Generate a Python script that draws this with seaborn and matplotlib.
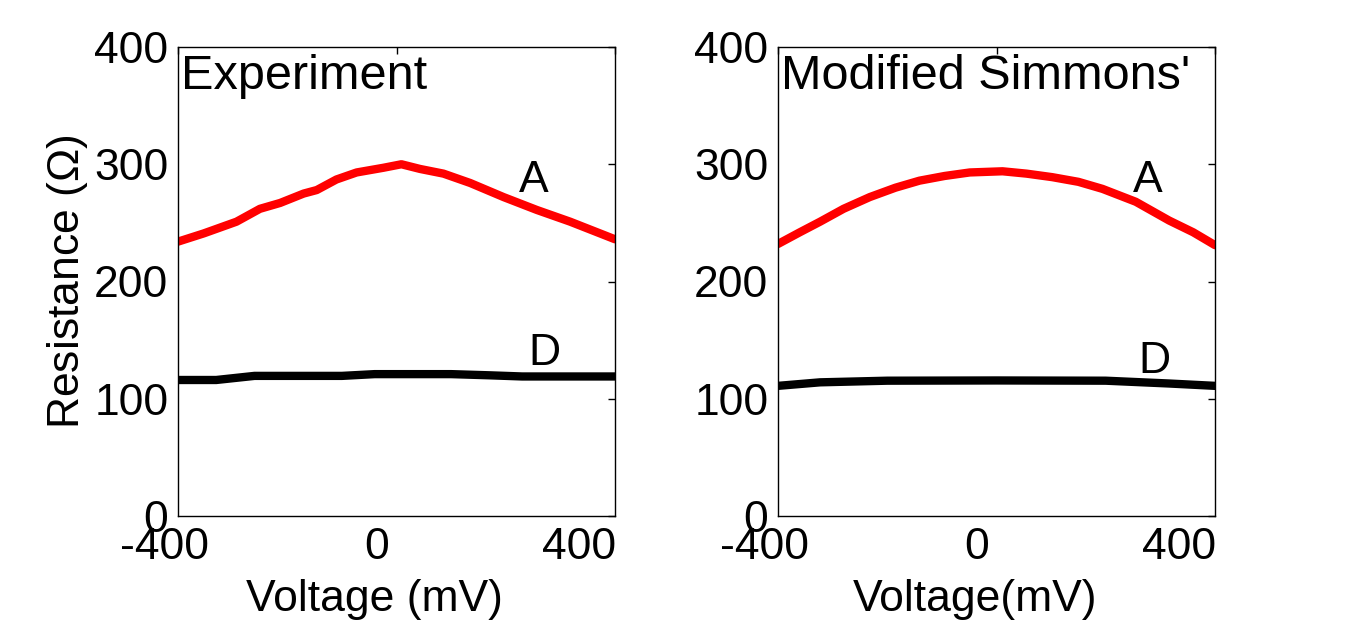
import numpy as np
import pandas as pd
import matplotlib
matplotlib.use("Agg")
import matplotlib.pyplot as plt
import matplotlib.transforms as mtransforms
import seaborn as sns

# values
exp_a_v = [-400, -353, -293, -250, -213, -170, -146, -110, -73, -24, 9, 43, 86, 135, 196, 257, 318, 400]
exp_a_r = [234, 241, 251, 262, 267, 275, 278, 287, 293, 297, 300, 296, 292, 284, 272, 261, 251, 236]
exp_d_v = [-400, -330, -260, -100, -40, 100, 170, 230, 400]
exp_d_r = [116, 116, 119.5, 119.5, 121, 121, 120, 119, 119]

sim_a_v = [-400, -360, -323, -280, -232, -185, -141, -95, -49, 11, 55, 102, 150, 194, 255, 316, 360, 400]
sim_a_r = [232, 242, 251, 262, 272, 280, 286, 290, 293, 294, 292, 289, 285, 279, 268, 252, 242, 231]
sim_d_v = [-400, -323, -200, 0, 200, 316, 400]
sim_d_r = [111, 114, 115.4, 115.6, 115.4, 113, 111]

panel_titles = ["Experiment", "Modified Simmons'"]
xlabels = ["Voltage (mV)", "Voltage(mV)"]
x_ticks = [-400, 0, 400]
y_ticks = [0, 100, 200, 300, 400]
# curve labels: (text, voltage, resistance)
curve_labels = [
    [("A", 251, 286), ("D", 270, 139)],
    [("A", 276, 286), ("D", 290, 132)],
]

def make_df(v_a, r_a, v_d, r_d):
    a = pd.DataFrame({"V": v_a, "R": r_a, "curve": "A"})
    d = pd.DataFrame({"V": v_d, "R": r_d, "curve": "D"})
    return pd.concat([a, d], ignore_index=True)

frames = [make_df(exp_a_v, exp_a_r, exp_d_v, exp_d_r),
          make_df(sim_a_v, sim_a_r, sim_d_v, sim_d_r)]

sns.set_style("white", rc={"text.color": "black", "axes.labelcolor": "black",
                           "xtick.color": "black", "ytick.color": "black",
                           "axes.edgecolor": "black"})
plt.rcParams["font.family"] = ["Liberation Sans", "DejaVu Sans"]
plt.rcParams["mathtext.fontset"] = "custom"
plt.rcParams["mathtext.rm"] = "Liberation Sans"
plt.rcParams["axes.unicode_minus"] = False

fig = plt.figure(figsize=(13.64, 6.23), dpi=100)
lefts = [178 / 1364, 778 / 1364]
width = 437 / 1364
bottom = 1 - 516 / 623
height = 469 / 623

fs = 32
for i, df in enumerate(frames):
    ax = fig.add_axes([lefts[i], bottom, width, height])
    sns.lineplot(data=df, x="V", y="R", hue="curve", palette={"A": "#ff0000", "D": "#000000"},
                 linewidth=6, legend=False, ax=ax, sort=False, estimator=None)
    ax.set_xlim(-400, 400)
    ax.set_ylim(0, 400)
    ax.set_xticks(x_ticks)
    ax.set_yticks(y_ticks)
    ax.tick_params(direction="in", length=5, width=1, top=True, right=True,
                   labelsize=fs, colors="black")
    ax.tick_params(axis="y", pad=7)
    ax.tick_params(axis="x", pad=8)
    for sp in ax.spines.values():
        sp.set_visible(True)
        sp.set_color("black")
        sp.set_linewidth(1)
    # shift x tick labels slightly left as in the reference
    shifts = [-14, -20, -36]
    for lab, s in zip(ax.get_xticklabels(), shifts):
        lab.set_transform(lab.get_transform() + mtransforms.ScaledTranslation(s / 100, 0, fig.dpi_scale_trans))
    ax.set_xlabel(xlabels[i], fontsize=fs, labelpad=0)
    ax.xaxis.set_label_coords(0.45, -0.135)
    if i == 0:
        ax.set_ylabel("Resistance ($\\Omega$)", fontsize=fs, labelpad=3)
    else:
        ax.set_ylabel("")
    ax.text(0.008, 0.985, panel_titles[i], transform=ax.transAxes, ha="left", va="top", fontsize=35)
    for txt, xv, yv in curve_labels[i]:
        ax.text(xv, yv, txt, ha="center", va="center", fontsize=fs)

fig.savefig("out.png", dpi=100)
